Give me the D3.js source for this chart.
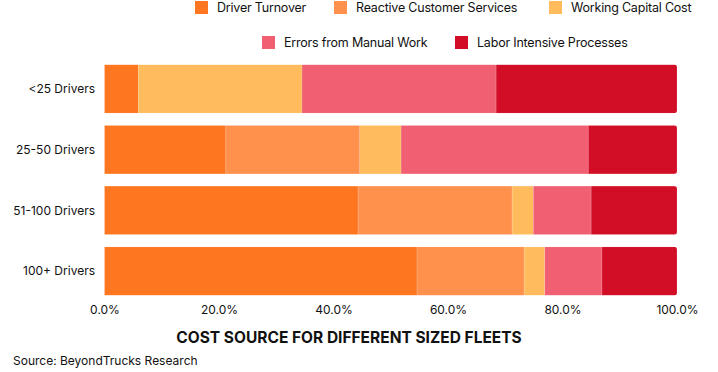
<!DOCTYPE html>
<html>
<head>
<title>Cost source for different sized fleets</title>
<script src="https://d3js.org/d3.v7.min.js"></script>
<style>
	body {margin:0; background:#fff;}
	text {font-family: Inter, "Noto Sans", sans-serif; fill:#111;}
</style>
</head>
<body>
<div id="chart"></div>
<script>
// fleet sizes (rows) and cost shares in percent
var fleets = ["<25 Drivers", "25-50 Drivers", "51-100 Drivers", "100+ Drivers"];
var series = ["Driver Turnover", "Reactive Customer Services", "Working Capital Cost", "Errors from Manual Work", "Labor Intensive Processes"];
var driverTurnover   = [5.9, 21.2, 44.3, 54.6];
var reactiveService  = [0.0, 23.4, 26.9, 18.7];
var workingCapital   = [28.6, 7.2, 3.7, 3.6];
var manualErrors     = [33.9, 32.7, 10.1, 10.0];
var laborIntensive   = [31.6, 15.5, 15.0, 13.1];
var ticks = [0, 20, 40, 60, 80, 100];
var colors = ["#ff7620", "#ff914d", "#ffbb5c", "#f06072", "#d20d26"];

var values = [driverTurnover, reactiveService, workingCapital, manualErrors, laborIntensive];
var table = fleets.map(function(f, i) {
	var row = {fleet: f};
	series.forEach(function(s, j) { row[s] = values[j][i]; });
	return row;
});

var W = 718, H = 372;
var svg = d3.select("#chart").append("svg")
	.attr("width", W)
	.attr("height", H);

var x = d3.scaleLinear().domain([0, 100]).range([104.5, 677]);
var y = d3.scaleBand().domain(fleets).range([58.5, 301.5]).paddingInner(0.2).paddingOuter(0.1);

var stack = d3.stack().keys(series)(table);

// clip for rounded right ends
var defs = svg.append("defs");
fleets.forEach(function(f, i) {
	defs.append("clipPath").attr("id", "clip" + i)
		.append("rect")
		.attr("x", x(0) - 4)
		.attr("y", y(f))
		.attr("width", x(100) - x(0) + 4)
		.attr("height", y.bandwidth())
		.attr("rx", 3);
});

var layers = svg.append("g").selectAll("g").data(stack).enter()
	.append("g")
	.attr("fill", function(d, i) { return colors[i]; });

layers.selectAll("rect")
	.data(function(d) { return d; })
	.enter()
	.append("rect")
	.attr("clip-path", function(d, i) { return "url(#clip" + i + ")"; })
	.attr("x", function(d) { return x(d[0]); })
	.attr("y", function(d) { return y(d.data.fleet); })
	.attr("width", function(d) { return Math.max(0, x(d[1]) - x(d[0])); })
	.attr("height", y.bandwidth())
	.attr("stroke", "#ffffff")
	.attr("stroke-opacity", 0.25)
	.attr("stroke-width", 0.6);

// category labels
svg.append("g").selectAll("text").data(fleets).enter()
	.append("text")
	.attr("x", 95)
	.attr("y", function(d) { return y(d) + y.bandwidth() / 2; })
	.attr("dy", "0.35em")
	.attr("text-anchor", "end")
	.attr("font-size", 12)
	.text(function(d) { return d; });

// x axis
var xAxis = d3.axisBottom(x).tickValues(ticks).tickSize(0).tickPadding(0)
	.tickFormat(function(d) { return d.toFixed(1) + "%"; });
var gx = svg.append("g").attr("transform", "translate(0,302)").call(xAxis);
gx.select(".domain").remove();
gx.selectAll("text")
	.attr("y", 3)
	.attr("font-size", 12)
	.attr("font-family", "Inter, 'Noto Sans', sans-serif")
	.attr("fill", "#111");

// legend
var legendPos = [
	{sq: 195, row: 0}, {sq: 334, row: 0}, {sq: 549, row: 0},
	{sq: 262, row: 1}, {sq: 455, row: 1}
];
var leg = svg.append("g").selectAll("g").data(series).enter()
	.append("g")
	.attr("transform", function(d, i) { return "translate(" + legendPos[i].sq + "," + (legendPos[i].row ? 36 : 1) + ")"; });
leg.append("rect")
	.attr("width", 13)
	.attr("height", 13)
	.attr("fill", function(d, i) { return colors[i]; });
leg.append("text")
	.attr("x", 22)
	.attr("y", 7)
	.attr("dy", "0.35em")
	.attr("font-size", 12.5)
	.attr("letter-spacing", -0.2)
	.text(function(d) { return d; });

// title & source
svg.append("text")
	.attr("x", 349)
	.attr("y", 343)
	.attr("text-anchor", "middle")
	.attr("font-size", 15.5)
	.attr("font-weight", "bold")
	.text("COST SOURCE FOR DIFFERENT SIZED FLEETS");

svg.append("text")
	.attr("x", 13)
	.attr("y", 365)
	.attr("font-size", 12)
	.text("Source: BeyondTrucks Research");
</script>
</body>
</html>
